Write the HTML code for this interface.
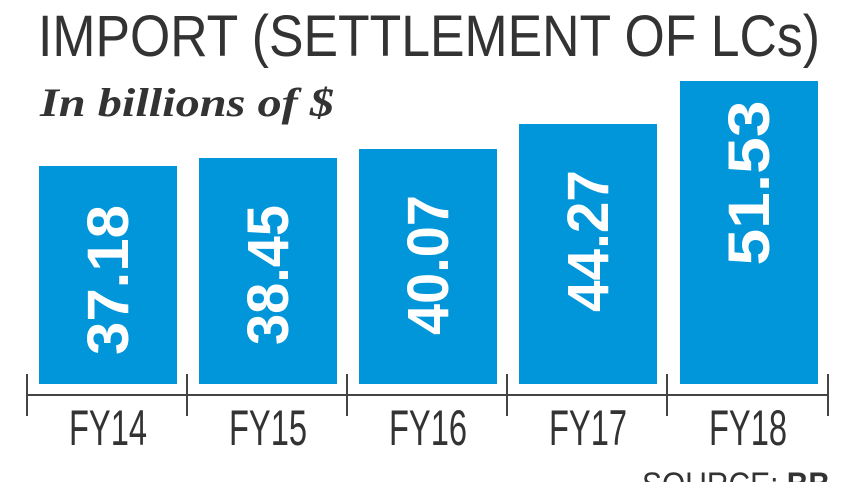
<!DOCTYPE html>
<html><head><style>body{margin:0;background:#fff}svg{display:block}</style></head>
<body>
<svg width="857" height="482" viewBox="0 0 857 482" xmlns="http://www.w3.org/2000/svg">
<text x="38" y="56" font-family="Liberation Sans, sans-serif" font-size="58" fill="#333" textLength="782" lengthAdjust="spacingAndGlyphs">IMPORT (SETTLEMENT OF LCs)</text>
<text x="40" y="116" font-family="Liberation Serif, serif" font-style="italic" font-weight="bold" font-size="40" fill="#333" textLength="294" lengthAdjust="spacingAndGlyphs">In billions of $</text>
<g fill="#0096d9">
<rect x="39" y="166" width="138" height="218"/>
<rect x="199" y="158" width="138" height="226"/>
<rect x="359" y="149" width="138" height="235"/>
<rect x="519" y="124" width="138" height="260"/>
<rect x="680" y="81" width="138" height="303"/>
</g>
<g fill="#fff" font-family="Liberation Sans, sans-serif" font-weight="bold" font-size="58" text-anchor="middle">
<text transform="translate(128,280) rotate(-90)" textLength="150" lengthAdjust="spacingAndGlyphs">37.18</text>
<text transform="translate(288,275) rotate(-90)" textLength="140" lengthAdjust="spacingAndGlyphs">38.45</text>
<text transform="translate(448,265) rotate(-90)" textLength="140" lengthAdjust="spacingAndGlyphs">40.07</text>
<text transform="translate(608,241) rotate(-90)" textLength="142" lengthAdjust="spacingAndGlyphs">44.27</text>
<text transform="translate(769,183) rotate(-90)" textLength="165" lengthAdjust="spacingAndGlyphs">51.53</text>
</g>
<g stroke="#444" stroke-width="2">
<line x1="27" y1="395" x2="828" y2="395"/>
<line x1="27" y1="374" x2="27" y2="416"/>
<line x1="187" y1="374" x2="187" y2="416"/>
<line x1="347" y1="374" x2="347" y2="416"/>
<line x1="507" y1="374" x2="507" y2="416"/>
<line x1="667" y1="374" x2="667" y2="416"/>
<line x1="828" y1="374" x2="828" y2="416"/>
</g>
<g fill="#333" font-family="Liberation Sans, sans-serif" font-size="50" text-anchor="middle">
<text x="108" y="445" textLength="78" lengthAdjust="spacingAndGlyphs">FY14</text>
<text x="268" y="445" textLength="78" lengthAdjust="spacingAndGlyphs">FY15</text>
<text x="428" y="445" textLength="78" lengthAdjust="spacingAndGlyphs">FY16</text>
<text x="588" y="445" textLength="78" lengthAdjust="spacingAndGlyphs">FY17</text>
<text x="748" y="445" textLength="78" lengthAdjust="spacingAndGlyphs">FY18</text>
</g>
<text x="642" y="496" font-family="Liberation Sans, sans-serif" font-size="34" fill="#333" textLength="188" lengthAdjust="spacingAndGlyphs">SOURCE: <tspan font-weight="bold">BB</tspan></text>
</svg>
</body></html>
